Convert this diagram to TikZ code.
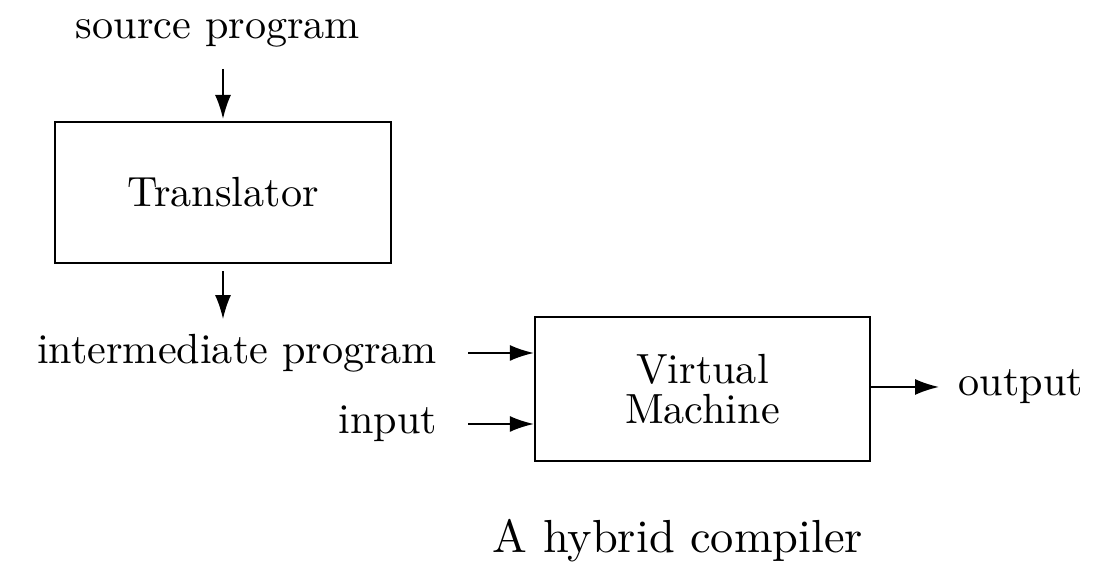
\documentclass[tikz,border=0pt]{standalone}
\usepackage{tikz}
\usetikzlibrary{arrows.meta,positioning}

\begin{document}
\begin{tikzpicture}
      [ every node/.style={scale=1.2},
        box/.style={draw, line width=0.6pt, rectangle},
        arr/.style={-{Latex[length=2.4mm,width=1.6mm]}, line width=0.5pt}
      ]
      \useasboundingbox (0,0) rectangle (10.96,-5.73);
      \node                                          (src)   at (2.18,-0.33)    {source program};
      \node[box, minimum width=2.8cm, minimum height=1.175cm]
                                                     (trans) at (2.23,-1.925)   {Translator};
      \node[anchor=east]                             (inter) at (4.52,-3.53)    {intermediate program};
      \node[anchor=east]                             (inp)   at (4.52,-4.24)    {input};
      \node[box, minimum width=2.79cm, minimum height=1.2cm, align=center]
                                                     (vm)    at (7.025,-3.89)   {Virtual\\[-2.5pt]Machine};
      \node[anchor=west]                             (out)   at (9.44,-3.87)    {output};
      \node[scale=1.1]                               (cap)   at (6.78,-5.41)    {A hybrid compiler};

      \draw[arr, shorten <=2pt, shorten >=0.5pt] (trans.north |- src.south) -- (trans.north);
      \draw[arr, shorten <=2pt] (trans.south) -- (trans.south |- inter.north);
      \draw[arr, shorten <=0.16cm] (inter.east |- 0,-3.53) -- (vm.west |- 0,-3.53);
      \draw[arr, shorten <=0.16cm] (inp.east |- 0,-4.24) -- (vm.west |- 0,-4.24);
      \draw[arr, shorten >=0.05cm] (vm.east |- 0,-3.87) -- (out.west |- 0,-3.87);
\end{tikzpicture}
\end{document}
